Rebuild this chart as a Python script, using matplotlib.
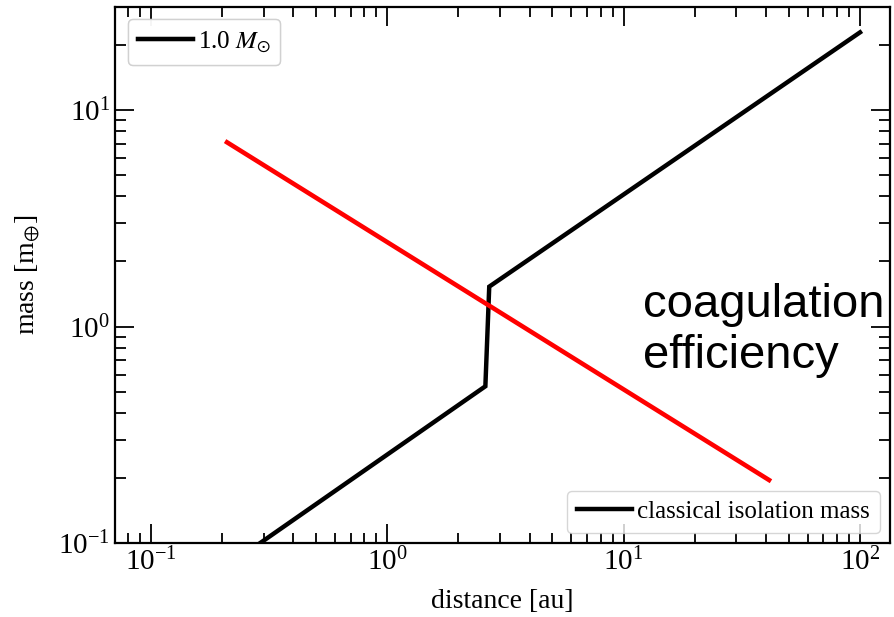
import matplotlib
matplotlib.use("Agg")
import matplotlib.pyplot as plt
from matplotlib.legend import Legend

plt.rcParams["font.family"] = ["Liberation Serif", "DejaVu Serif"]
plt.rcParams["mathtext.fontset"] = "stix"

# classical isolation mass for a 1 solar-mass star
iso_dist = [0.29, 2.6, 2.7, 100.0]
iso_mass = [0.1, 0.53, 1.53, 22.9]

# coagulation efficiency trend
coag_dist = [0.206, 42.0]
coag_mass = [7.2, 0.193]

fig = plt.figure(figsize=(8.95, 6.17), dpi=100)
ax = fig.add_axes([0.1285, 0.1199, 0.866, 0.8688])

line_iso, = ax.plot(iso_dist, iso_mass, color="black", lw=3.2,
                    solid_joinstyle="miter")
ax.plot(coag_dist, coag_mass, color="red", lw=3.3, solid_capstyle="butt")

ax.set_xscale("log")
ax.set_yscale("log")
ax.set_xlim(0.0705, 134)
ax.set_ylim(0.1, 30)

ax.set_xlabel("distance [au]", fontsize=20, labelpad=9)
ax.set_ylabel(r"mass [m$_{\oplus}$]", fontsize=20, labelpad=12)

ax.tick_params(which="both", direction="in", top=True, right=True,
               labelsize=21, width=1.3)
ax.tick_params(which="major", length=14)
ax.tick_params(which="minor", length=7)
ax.tick_params(axis="y", which="minor", length=8)
for sp in ax.spines.values():
    sp.set_linewidth(1.6)

leg1 = ax.legend([line_iso], [r"1.0 $M_{\odot}$"], loc="upper left",
                 fontsize=18, handlelength=2.2, handletextpad=0.2,
                 borderaxespad=0.5, borderpad=0.4)
leg2 = Legend(ax, [line_iso], ["classical isolation mass"], loc="lower right",
              fontsize=18, handlelength=2.2, handletextpad=0.2,
              borderaxespad=0.4, borderpad=0.4)
ax.add_artist(leg1)
ax.add_artist(leg2)

fig.text(643 / 895, 1 - 317 / 617, "coagulation", fontsize=34,
         family="Liberation Sans", va="baseline", ha="left")
fig.text(643 / 895, 1 - 368 / 617, "efficiency", fontsize=34,
         family="Liberation Sans", va="baseline", ha="left")

fig.savefig("out.png", dpi=100)
